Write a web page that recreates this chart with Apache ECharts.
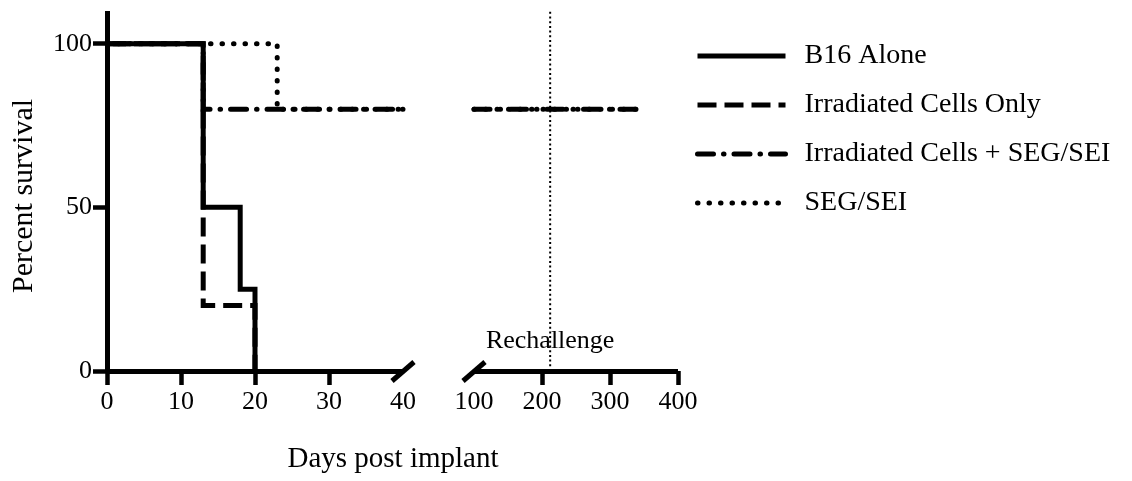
<!DOCTYPE html>
<html>
<head>
<meta charset="utf-8">
<title>Percent survival</title>
<script src="https://cdn.jsdelivr.net/npm/echarts@6/dist/echarts.min.js"></script>
<style>
  html, body { margin: 0; padding: 0; background: #fff; }
  #chart { width: 1132px; height: 481px; }
</style>
</head>
<body>
<div id="chart"></div>
<script>
// Kaplan-Meier survival: day of each event and the survival (%) from that day on
const groupNames = ['B16 Alone', 'Irradiated Cells Only', 'Irradiated Cells + SEG/SEI', 'SEG/SEI'];
const b16Days = [0, 13, 18, 20];
const b16Pct = [100, 50, 25, 0];
const irrDays = [0, 13, 20];
const irrPct = [100, 20, 0];
const comboDays = [0, 13, 340];
const comboPct = [100, 80, 80];
const segDays = [0, 23, 340];
const segPct = [100, 80, 80];

// Broken x axis: early segment and late segment
const earlyTicks = [0, 10, 20, 30, 40];
const lateTicks = [100, 200, 300, 400];
const yTicks = [0, 50, 100];
const yMax = 110;
const rechallengeDay = 212;
const rechallengeLabelPct = 9.2;

const FONT = 'Liberation Serif';
const INK = '#000';

const earlyMin = earlyTicks[0], earlyMax = earlyTicks[earlyTicks.length - 1];
const lateMin = lateTicks[0], lateMax = lateTicks[lateTicks.length - 1];

function valueAt(days, pct, d) {
  let v = pct[0];
  for (let i = 0; i < days.length; i++) if (days[i] <= d) v = pct[i];
  return v;
}
function earlyPart(days, pct) {
  const pts = [];
  for (let i = 0; i < days.length; i++) if (days[i] <= earlyMax) pts.push([days[i], pct[i]]);
  if (days[days.length - 1] > earlyMax) pts.push([earlyMax, valueAt(days, pct, earlyMax)]);
  return pts;
}
function latePart(days, pct) {
  if (days[days.length - 1] <= lateMin) return null;
  const pts = [[lateMin, valueAt(days, pct, lateMin)]];
  for (let i = 0; i < days.length; i++) if (days[i] > lateMin && days[i] <= lateMax) pts.push([days[i], pct[i]]);
  return pts;
}

const styles = [
  { type: 'solid', width: 5, cap: 'butt', z: 6, offset: 0 },
  { type: [19, 8], width: 5, cap: 'butt', z: 4, offset: 0 },
  { type: [16, 10, 0.5, 10], width: 5, cap: 'round', z: 3, offset: 30 },
  { type: [0.5, 11], width: 5, cap: 'round', z: 5, offset: 0 }
];
const groups = [[b16Days, b16Pct], [irrDays, irrPct], [comboDays, comboPct], [segDays, segPct]];

const series = [];
groups.forEach(([d, p], i) => {
  const st = styles[i];
  const base = {
    type: 'line', name: groupNames[i], step: 'end', symbol: 'none', silent: true, z: st.z,
    itemStyle: { color: INK }
  };
  const line = (offset) => ({ color: INK, width: st.width, type: st.type, cap: st.cap, join: 'miter', dashOffset: offset });
  series.push(Object.assign({}, base, { xAxisIndex: 0, yAxisIndex: 0, lineStyle: line(st.offset), data: earlyPart(d, p) }));
  const late = latePart(d, p);
  if (late) series.push(Object.assign({}, base, { xAxisIndex: 1, yAxisIndex: 1, lineStyle: line(0), data: late }));
});

// Rechallenge marker line and its label
series.push({
  type: 'line', name: 'Rechallenge', xAxisIndex: 1, yAxisIndex: 1, symbol: 'none', silent: true, z: 2,
  lineStyle: { color: INK, width: 2, type: [2, 2.7] },
  data: [[rechallengeDay, 0], [rechallengeDay, yMax]]
});
series.push({
  type: 'scatter', name: 'RechallengeLabel', xAxisIndex: 1, yAxisIndex: 1, symbolSize: 0, silent: true, z: 7,
  itemStyle: { opacity: 1, color: INK },
  label: { show: true, position: 'inside', formatter: 'Rechallenge', color: INK, fontFamily: FONT, fontSize: 26 },
  data: [[rechallengeDay, rechallengeLabelPct]]
});

const axisLine = { show: true, onZero: false, lineStyle: { color: INK, width: 5, cap: 'butt' } };
const tickStyle = { color: INK, width: 4.5 };
const labelText = { color: INK, fontFamily: FONT, fontSize: 26 };

const gridTop = 11, gridHeight = 360;

const option = {
  animation: false,
  backgroundColor: '#fff',
  grid: [
    { left: 107, width: 296, top: gridTop, height: gridHeight },
    { left: 474, width: 204, top: gridTop, height: gridHeight }
  ],
  xAxis: [
    {
      type: 'value', gridIndex: 0, min: earlyMin, max: earlyMax, interval: 10,
      splitLine: { show: false }, axisLine,
      axisTick: { show: true, length: 14, lineStyle: tickStyle, customValues: earlyTicks.slice(0, -1) },
      axisLabel: Object.assign({ margin: 18, customValues: earlyTicks }, labelText)
    },
    {
      type: 'value', gridIndex: 1, min: lateMin, max: lateMax, interval: 100,
      splitLine: { show: false }, axisLine,
      axisTick: { show: true, length: 14, lineStyle: tickStyle, customValues: lateTicks.slice(1) },
      axisLabel: Object.assign({ margin: 18, customValues: lateTicks }, labelText)
    }
  ],
  yAxis: [
    {
      type: 'value', gridIndex: 0, min: 0, max: yMax, interval: 50,
      splitLine: { show: false }, axisLine,
      axisTick: { show: true, length: 14, lineStyle: tickStyle, customValues: yTicks },
      axisLabel: Object.assign({ margin: 15, customValues: yTicks }, labelText)
    },
    {
      type: 'value', gridIndex: 1, min: 0, max: yMax, interval: 50, show: false
    }
  ],
  legend: {
    orient: 'vertical', left: 690, top: 37,
    itemWidth: 88, itemHeight: 12, itemGap: 21,
    selectedMode: false,
    itemStyle: { color: 'rgba(0,0,0,0)', borderWidth: 0, opacity: 0 },
    data: groupNames.map((n, i) => ({
      name: n,
      lineStyle: { color: INK, width: 5, type: styles[i].type, cap: styles[i].cap, dashOffset: 0 }
    })),
    textStyle: { color: INK, fontFamily: FONT, fontSize: 28, padding: [0, 0, 0, 14] }
  },
  series
};

const chart = echarts.init(document.getElementById('chart'), null, { renderer: 'canvas' });
chart.setOption(option);

// Axis titles and the break marks on the x axis
const y0 = chart.convertToPixel({ yAxisIndex: 0 }, 0);
const breakA = chart.convertToPixel({ xAxisIndex: 0 }, earlyMax);
const breakB = chart.convertToPixel({ xAxisIndex: 1 }, lateMin);
const slash = (cx) => ({
  type: 'line', silent: true, z: 10,
  shape: { x1: cx - 11, y1: y0 + 10, x2: cx + 11, y2: y0 - 9 },
  style: { stroke: INK, lineWidth: 5 }
});
chart.setOption({
  graphic: [
    slash(breakA), slash(breakB),
    {
      type: 'text', silent: true, x: 393, y: 459,
      style: { text: 'Days post implant', fill: INK, font: '29px "' + FONT + '"', align: 'center', verticalAlign: 'middle' }
    },
    {
      type: 'text', silent: true, x: 24, y: 196, rotation: Math.PI / 2,
      style: { text: 'Percent survival', fill: INK, font: '30px "' + FONT + '"', align: 'center', verticalAlign: 'middle' }
    }
  ]
});
</script>
</body>
</html>
